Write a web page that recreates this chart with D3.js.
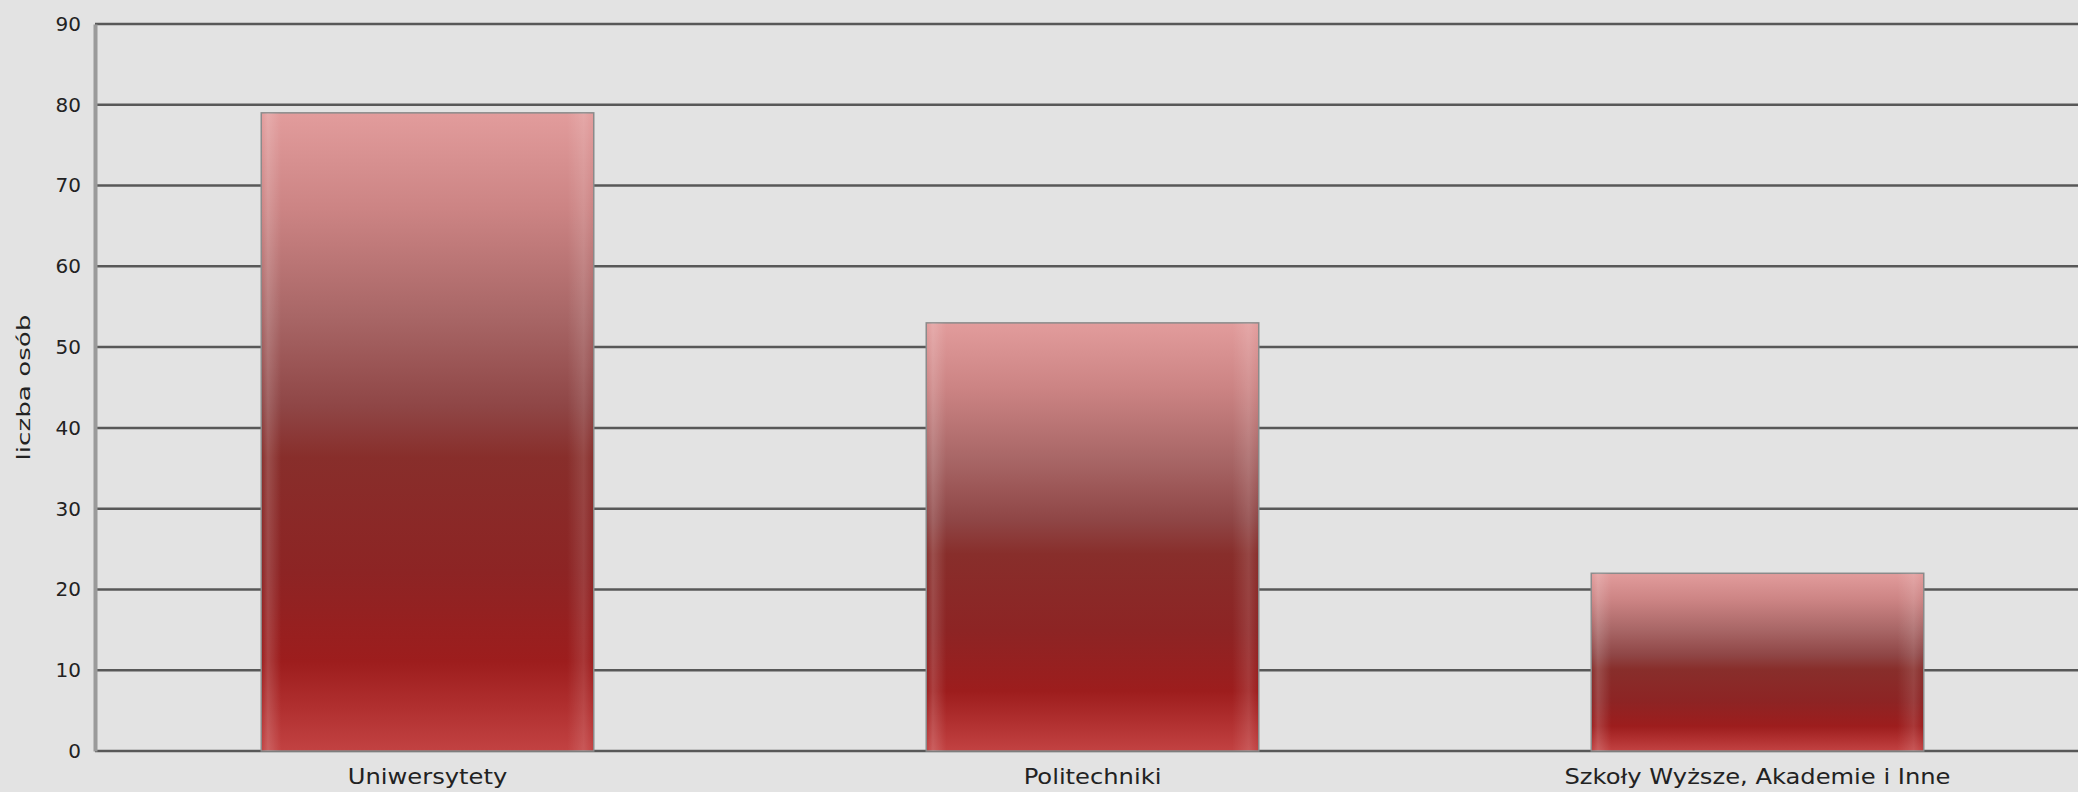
<!DOCTYPE html>
<html>
<head>
<meta charset="utf-8">
<script src="https://cdn.jsdelivr.net/npm/d3@7"></script>
<style>
	html, body { margin: 0; padding: 0; background: #e3e3e3; }
	text { font-family: "DejaVu Sans", sans-serif; fill: #222; }
</style>
</head>
<body>
<div id="chart"></div>
<script>
var categories = ["Uniwersytety", "Politechniki", "Szkoły Wyższe, Akademie i Inne"];
var values = [79, 53, 22];
var yTicks = [0, 10, 20, 30, 40, 50, 60, 70, 80, 90];
var yTitle = "liczba osób";

var width = 2078, height = 792;
var plotLeft = 95, plotTop = 24, plotBottom = 751, plotRight = 2090;

var svg = d3.select("#chart").append("svg")
	.attr("width", width)
	.attr("height", height);

svg.append("rect")
	.attr("width", width)
	.attr("height", height)
	.attr("fill", "#e3e3e3");

var defs = svg.append("defs");
// bar shading, top pink to dark red to a lighter red at the foot
var grad = defs.append("linearGradient")
	.attr("id", "barFill")
	.attr("x1", 0).attr("y1", 0).attr("x2", 0).attr("y2", 1);
[[0, "#e29c9c"], [0.15, "#cc8484"], [0.32, "#a86666"], [0.46, "#8f4646"],
 [0.54, "#882e2b"], [0.72, "#8d2424"], [0.86, "#9d1d1d"], [0.93, "#b02f2f"], [1, "#c24242"]]
	.forEach(function(s){
		grad.append("stop").attr("offset", s[0]).attr("stop-color", s[1]);
	});
var side = defs.append("linearGradient")
	.attr("id", "barSide")
	.attr("x1", 0).attr("y1", 0).attr("x2", 1).attr("y2", 0);
[[0, 0.0], [0.02, 0.16], [0.06, 0.0], [0.92, 0.0], [0.97, 0.12], [1, 0.0]]
	.forEach(function(s){
		side.append("stop").attr("offset", s[0]).attr("stop-color", "#fff").attr("stop-opacity", s[1]);
	});

var x = d3.scaleBand()
	.domain(categories)
	.range([plotLeft, plotRight])
	.paddingInner(0.5)
	.paddingOuter(0.25);

var y = d3.scaleLinear()
	.domain([0, 90])
	.range([plotBottom, plotTop]);

// grid
svg.append("g").selectAll("line").data(yTicks)
	.enter().append("line")
	.attr("x1", plotLeft)
	.attr("x2", width)
	.attr("y1", function(d){ return y(d); })
	.attr("y2", function(d){ return y(d); })
	.attr("stroke", "#585858")
	.attr("stroke-width", 2.5);

// y axis
var yAxis = svg.append("g")
	.attr("transform", "translate(" + plotLeft + ",0)")
	.call(d3.axisLeft(y).tickValues(yTicks).tickSize(0).tickPadding(14));
yAxis.select(".domain")
	.attr("stroke", "#9a9a9a")
	.attr("stroke-width", 4);
yAxis.selectAll("text")
	.style("font-family", "DejaVu Sans, sans-serif")
	.style("font-size", "20px")
	.attr("fill", "#222");

// bars
var bars = svg.append("g").selectAll("g").data(values)
	.enter().append("g");
bars.append("rect")
	.attr("x", function(d, i){ return x(categories[i]); })
	.attr("y", function(d){ return y(d); })
	.attr("width", x.bandwidth())
	.attr("height", function(d){ return y(0) - y(d); })
	.attr("fill", "url(#barFill)")
	.attr("stroke", "#8a8a8a")
	.attr("stroke-width", 1.5);
bars.append("rect")
	.attr("x", function(d, i){ return x(categories[i]); })
	.attr("y", function(d){ return y(d); })
	.attr("width", x.bandwidth())
	.attr("height", function(d){ return y(0) - y(d); })
	.attr("fill", "url(#barSide)");

// x labels (the source is stretched sideways a little)
svg.append("g").selectAll("text").data(categories)
	.enter().append("text")
	.attr("transform", function(d){
		return "translate(" + (x(d) + x.bandwidth() / 2) + ",784) scale(1.1,1)";
	})
	.attr("text-anchor", "middle")
	.style("font-size", "22px")
	.text(function(d){ return d; });

// axis title
svg.append("text")
	.attr("transform", "translate(30," + ((plotTop + plotBottom) / 2) + ") rotate(-90)")
	.attr("text-anchor", "middle")
	.attr("textLength", 146)
	.attr("lengthAdjust", "spacingAndGlyphs")
	.style("font-size", "18px")
	.text(yTitle);
</script>
</body>
</html>
